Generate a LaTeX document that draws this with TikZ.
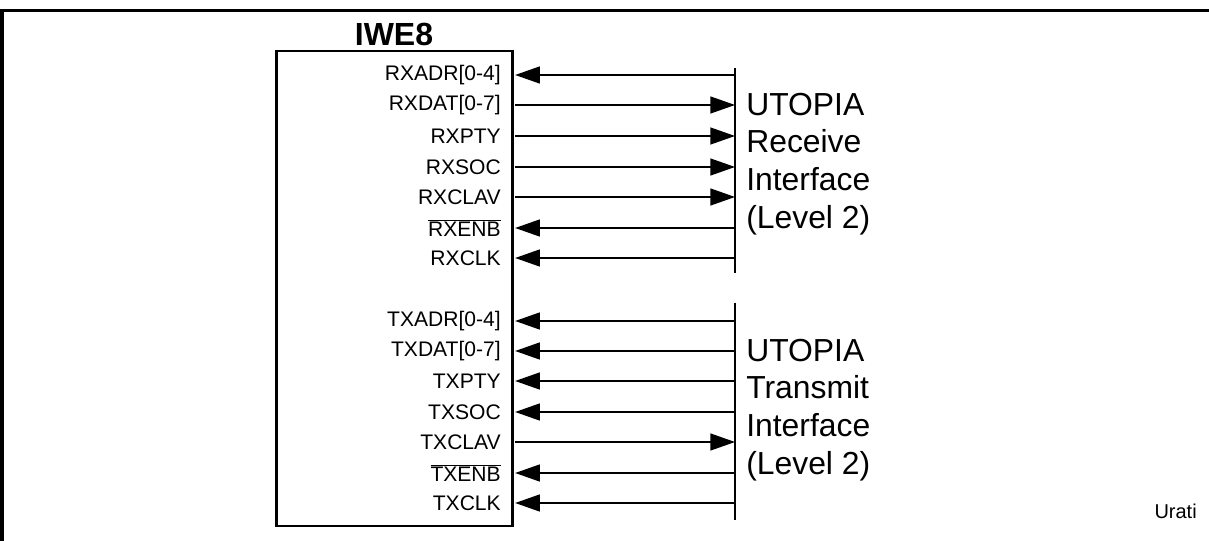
\documentclass[tikz,border=0pt]{standalone}
\usepackage{fontspec}
\setmainfont{Liberation Sans}
\usetikzlibrary{arrows.meta}
\tikzset{
  px/.style={x=0.75pt,y=-0.75pt},
  sig/.style={font=\fontsize{15.8pt}{18pt}\selectfont, anchor=east, inner sep=0pt},
  wire/.style={line width=1pt},
  tipl/.style={wire,-{Triangle[length=18.5pt,width=12.75pt]}},
  bar/.style={line width=1.1pt},
  big/.style={font=\fontsize{23.9pt}{28.3pt}\selectfont, align=left, anchor=west, inner sep=0pt},
}
\begin{document}
\begin{tikzpicture}[px]
\useasboundingbox (0,0) rectangle (1209,541);
% outer frame
\draw[line width=2.3pt] (2,541) -- (2,10.5) -- (1209,10.5);
% chip
\node[draw, line width=2.2pt, minimum width=236*0.75pt, minimum height=475*0.75pt, inner sep=0pt] (chip) at (394.5,288.5) {};
\node[font=\bfseries\fontsize{24pt}{28pt}\selectfont, inner sep=0pt] (title) at (394,34.5) {IWE8};
% bars
\coordinate (rxt) at (735,68);
\coordinate (rxb) at (735,273);
\coordinate (txt) at (735,303);
\coordinate (txb) at (735,520);
\draw[bar] (rxt) -- (rxb);
\draw[bar] (txt) -- (txb);
% signal labels
\foreach \n/\y/\t in {a/75/RXADR[0-4], b/105/RXDAT[0-7], c/136/RXPTY, d/167/RXSOC, e/197/RXCLAV, f/228/{$\overline{\mbox{RXENB}}$}, g/258/RXCLK,
                      h/321/TXADR[0-4], i/351/TXDAT[0-7], j/381/TXPTY, k/412/TXSOC, l/442/TXCLAV, m/473/{$\overline{\mbox{TXENB}}$}, n/503/TXCLK}
  {\node[sig] (s\n) at (501,\y) {\t};
   \coordinate (p\n) at (735,\y);}
% inputs to chip (arrow at chip)
\foreach \n in {a,f,g,h,i,j,k,m,n}
  \draw[tipl] (p\n) -- ([xshift=0.9pt]chip.east |- p\n);
% outputs from chip (arrow at bar)
\foreach \n in {b,c,d,e,l}
  \draw[tipl] ([xshift=0.9pt]chip.east |- p\n) -- (p\n);
% interface labels
\node[big] (rxlab) at (746,164) {UTOPIA\\Receive\\Interface\\(Level 2)};
\node[big] (txlab) at (746,410) {UTOPIA\\Transmit\\Interface\\(Level 2)};
\node[font=\fontsize{15pt}{18pt}\selectfont, anchor=east, inner sep=0pt] (urati) at (1197,511) {Urati};
\end{tikzpicture}
\end{document}
